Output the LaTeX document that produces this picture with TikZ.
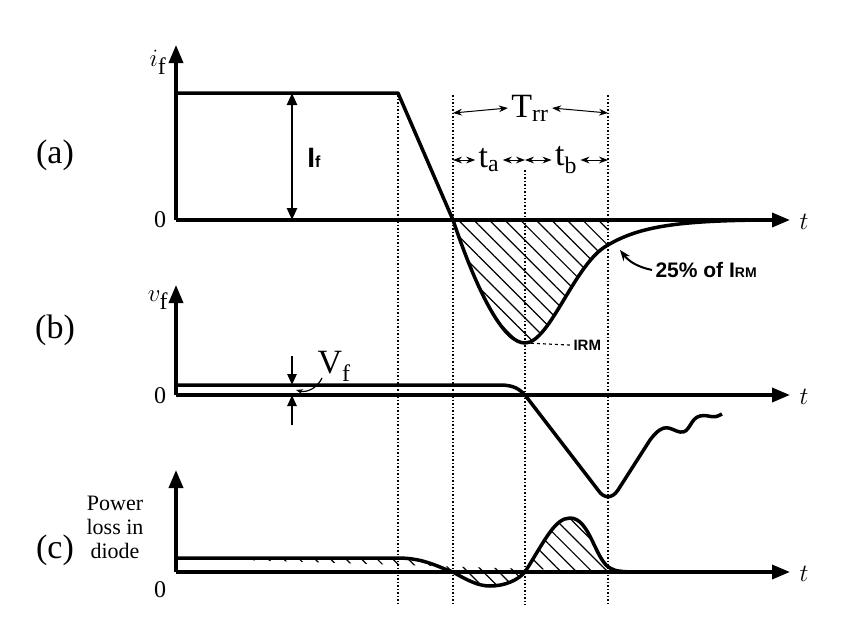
\documentclass[tikz,border=0pt]{standalone}
\usepackage{fontspec}
\setmainfont{Liberation Serif}
\newfontfamily\boldsans{Liberation Sans}
\usetikzlibrary{arrows.meta,patterns.meta}
\begin{document}
\begin{tikzpicture}[x=1pt,y=-1pt,
    axis/.style={line width=3.5pt,-{Triangle[length=18pt,width=14pt]}},
    wave/.style={line width=3.5pt,line join=round},
    guide/.style={dotted,line width=1.5pt},
    span/.style={line width=1pt,{Stealth[length=9pt]}-{Stealth[length=9pt]}},
    hatch/.style={pattern={Lines[angle=-45,distance=11pt,line width=1.2pt]}},
    lbl/.style={font=\fontsize{34}{34}\selectfont},
    zero/.style={font=\fontsize{24}{24}\selectfont},
    bl/.style={font=\boldsans\bfseries\fontsize{21}{21}\selectfont}]
  \useasboundingbox (0,0) rectangle (860,633);

  % dotted guides
  \foreach \x in {398,453,608}
    \draw[guide] (\x,95) -- (\x,605);
  \draw[guide] (525,170) -- (525,605);

  % ---- (a) current
  \coordinate (a0) at (176,220);
  \draw[axis] (a0) -- (176,45);
  \draw[axis] (a0) -- (790,220);
  \node[lbl] (ifl) at (158,62) {$i_{\mathrm f}$};
  \node[lbl] (la) at (55,155) {(a)};
  \node[zero] (za) at (160,220) {0};
  \node[lbl] (ta) at (804,222) {$t$};
  \fill[hatch] (453,220) .. controls (480,300) and (505,343) .. (525,343)
    .. controls (550,343) and (575,262) .. (608,245) -- (608,220) -- cycle;
  \draw[wave] (176,93) -- (398,93) -- (453,220)
    .. controls (480,300) and (505,343) .. (525,343)
    .. controls (550,343) and (575,262) .. (608,245)
    .. controls (640,226) and (680,221) .. (760,220);
  \draw[line width=2.5pt,{Triangle[length=12pt,width=10pt]}-{Triangle[length=12pt,width=10pt]}] (292,93) -- (292,220);
  \node[font=\boldsans\bfseries\fontsize{28}{28}\selectfont] (If) at (314,158) {I\fontsize{16}{16}\selectfont f};
  \node[lbl] (trr) at (530,108) {T$_{\mathrm{rr}}$};
  \draw[span] (453,113) -- (trr.west);
  \draw[span] (608,113) -- (trr.east);
  \node[lbl] (tal) at (489,160) {t$_{\mathrm a}$};
  \node[lbl] (tbl) at (566,160) {t$_{\mathrm b}$};
  \draw[span] (453,160) -- (tal.west);
  \draw[span] (525,160) -- (tal.east);
  \draw[span] (525,160) -- (tbl.west);
  \draw[span] (608,160) -- (tbl.east);
  \node[bl,anchor=west] (pct) at (652,270) {25\% of I\fontsize{14}{14}\selectfont RM};
  \draw[line width=2pt,-{Stealth[length=11pt]}] (pct.west) to[bend left=20] (620,250);
  \node[bl,anchor=west] (irm) at (570,345) {\fontsize{15}{15}\selectfont IRM};
  \draw[dashed,line width=1.2pt] (525,343) -- (irm.west);

  % ---- (b) voltage
  \coordinate (b0) at (176,395);
  \draw[axis] (b0) -- (176,285);
  \draw[axis] (b0) -- (790,395);
  \node[lbl] (vfl) at (158,300) {$v_{\mathrm f}$};
  \node[lbl] (lb) at (55,330) {(b)};
  \node[zero] (zb) at (160,396) {0};
  \node[lbl] (tb) at (804,397) {$t$};
  \draw[wave] (176,385) -- (500,385) .. controls (515,385) and (520,390) .. (525,395)
    -- (598,490) .. controls (604,499) and (612,499) .. (618,490)
    -- (650,440) .. controls (665,420) and (670,430) .. (680,432)
    .. controls (690,434) and (690,418) .. (700,416)
    .. controls (710,414) and (712,420) .. (722,414);
  \draw[line width=2.5pt,-{Triangle[length=11pt,width=9pt]}] (292,356) -- (292,385);
  \draw[line width=2.5pt,-{Triangle[length=11pt,width=9pt]}] (292,425) -- (292,395);
  \node[lbl] (Vf) at (334,366) {V$_{\mathrm f}$};
  \draw[line width=1.2pt,-{Stealth[length=7pt]}] (322,378) to[bend left=40] (296,390);

  % ---- (c) power loss
  \coordinate (c0) at (176,572);
  \draw[axis] (c0) -- (176,470);
  \draw[axis] (c0) -- (790,572);
  \node[align=center,font=\fontsize{22}{24}\selectfont] (pl) at (115,527) {Power\\loss in\\diode};
  \node[lbl] (lc) at (55,550) {(c)};
  \node[zero] (zc) at (160,590) {0};
  \node[lbl] (tc) at (804,574) {$t$};
  \fill[hatch] (176,558) -- (398,558) .. controls (425,558) and (440,568) .. (453,572)
    .. controls (470,582) and (480,586) .. (490,586)
    .. controls (505,586) and (518,580) .. (525,572)
    .. controls (545,540) and (555,518) .. (570,518)
    .. controls (590,518) and (595,560) .. (610,568)
    .. controls (615,571) and (620,572) .. (630,572) -- cycle;
  \draw[wave] (176,558) -- (398,558) .. controls (425,558) and (440,568) .. (453,572)
    .. controls (470,582) and (480,586) .. (490,586)
    .. controls (505,586) and (518,580) .. (525,572)
    .. controls (545,540) and (555,518) .. (570,518)
    .. controls (590,518) and (595,560) .. (610,568)
    .. controls (615,571) and (620,572) .. (640,572);
\end{tikzpicture}
\end{document}
